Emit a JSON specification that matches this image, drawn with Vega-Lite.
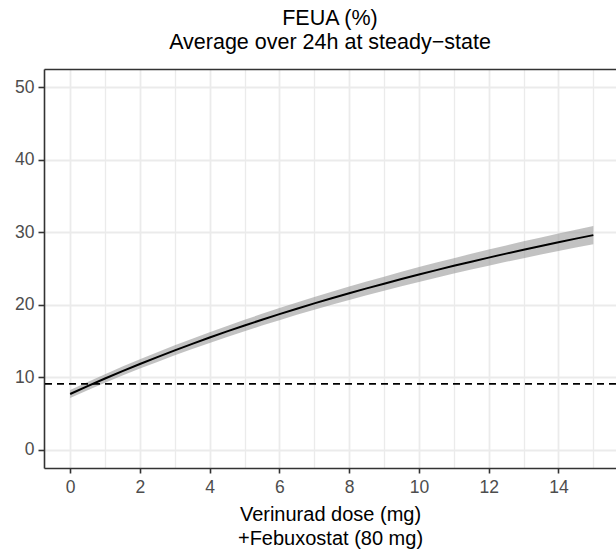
{
  "$schema": "https://vega.github.io/schema/vega-lite/v6.json",
  "autosize": {"type": "none"},
  "padding": {"left": 44, "top": 69, "right": 0, "bottom": 90},
  "width": 572,
  "height": 399,
  "background": "white",
  "config": {
    "view": {"stroke": null},
    "font": "Liberation Sans",
    "axis": {
      "gridColor": "#EBEBEB",
      "domainColor": "#333333",
      "domainWidth": 1.6,
      "tickColor": "#333333",
      "tickWidth": 1.6,
      "labelColor": "#4D4D4D",
      "labelFont": "Liberation Sans",
      "titleFont": "Liberation Sans",
      "titleFontWeight": "normal",
      "titleColor": "#000000"
    }
  },
  "title": {
    "text": ["FEUA (%)", "Average over 24h at steady−state"],
    "fontSize": 21.5,
    "fontWeight": "normal",
    "font": "Liberation Sans",
    "color": "#000000",
    "lineHeight": 24,
    "anchor": "middle",
    "frame": "group",
    "offset": 16
  },
  "data": {
    "values": [
      {"dose": 0, "feua": 7.70, "lo": 7.15, "hi": 8.25},
      {"dose": 0.5, "feua": 8.79, "lo": 8.22, "hi": 9.36},
      {"dose": 1, "feua": 9.84, "lo": 9.24, "hi": 10.44},
      {"dose": 1.5, "feua": 10.86, "lo": 10.24, "hi": 11.48},
      {"dose": 2, "feua": 11.84, "lo": 11.20, "hi": 12.48},
      {"dose": 2.5, "feua": 12.79, "lo": 12.12, "hi": 13.46},
      {"dose": 3, "feua": 13.72, "lo": 13.03, "hi": 14.41},
      {"dose": 3.5, "feua": 14.61, "lo": 13.90, "hi": 15.32},
      {"dose": 4, "feua": 15.48, "lo": 14.74, "hi": 16.22},
      {"dose": 4.5, "feua": 16.33, "lo": 15.57, "hi": 17.09},
      {"dose": 5, "feua": 17.14, "lo": 16.36, "hi": 17.92},
      {"dose": 5.5, "feua": 17.94, "lo": 17.13, "hi": 18.75},
      {"dose": 6, "feua": 18.71, "lo": 17.88, "hi": 19.54},
      {"dose": 6.5, "feua": 19.46, "lo": 18.61, "hi": 20.31},
      {"dose": 7, "feua": 20.19, "lo": 19.31, "hi": 21.07},
      {"dose": 7.5, "feua": 20.90, "lo": 20.00, "hi": 21.80},
      {"dose": 8, "feua": 21.59, "lo": 20.67, "hi": 22.51},
      {"dose": 8.5, "feua": 22.26, "lo": 21.31, "hi": 23.21},
      {"dose": 9, "feua": 22.91, "lo": 21.94, "hi": 23.88},
      {"dose": 9.5, "feua": 23.55, "lo": 22.56, "hi": 24.54},
      {"dose": 10, "feua": 24.17, "lo": 23.15, "hi": 25.19},
      {"dose": 10.5, "feua": 24.78, "lo": 23.74, "hi": 25.82},
      {"dose": 11, "feua": 25.37, "lo": 24.31, "hi": 26.43},
      {"dose": 11.5, "feua": 25.94, "lo": 24.85, "hi": 27.03},
      {"dose": 12, "feua": 26.50, "lo": 25.39, "hi": 27.61},
      {"dose": 12.5, "feua": 27.05, "lo": 25.92, "hi": 28.18},
      {"dose": 13, "feua": 27.59, "lo": 26.43, "hi": 28.75},
      {"dose": 13.5, "feua": 28.11, "lo": 26.93, "hi": 29.29},
      {"dose": 14, "feua": 28.62, "lo": 27.42, "hi": 29.82},
      {"dose": 14.5, "feua": 29.12, "lo": 27.89, "hi": 30.35},
      {"dose": 15, "feua": 29.60, "lo": 28.35, "hi": 30.85}
    ]
  },
  "layer": [
    {
      "mark": {"type": "area", "color": "#999999", "opacity": 0.6},
      "encoding": {
        "x": {
          "field": "dose", "type": "quantitative",
          "scale": {"domain": [-0.75, 15.65], "nice": false, "zero": false},
          "axis": {
            "orient": "bottom",
            "values": [0,1,2,3,4,5,6,7,8,9,10,11,12,13,14,15],
            "labelExpr": "datum.value % 2 == 0 ? datum.label : ''",
            "labelFontSize": 17.5,
            "labelPadding": 5,
            "tickSize": 5,
            "tickOpacity": {"condition": {"test": "datum.value % 2 != 0", "value": 0}, "value": 1},
            "gridWidth": {"condition": {"test": "datum.value % 2 != 0", "value": 1.3}, "value": 1.8},
            "title": ["Verinurad dose (mg)", "+Febuxostat (80 mg)"],
            "titleFontSize": 20,
            "titleLineHeight": 24,
            "titlePadding": 9
          }
        },
        "y": {
          "field": "lo", "type": "quantitative",
          "scale": {"domain": [-2.5, 52.5], "nice": false, "zero": false},
          "axis": {
            "values": [0,5,10,15,20,25,30,35,40,45,50],
            "labelExpr": "datum.value % 10 == 0 ? datum.label : ''",
            "labelFontSize": 17.5,
            "labelPadding": 4,
            "tickSize": 6,
            "tickOpacity": {"condition": {"test": "datum.value % 10 != 0", "value": 0}, "value": 1},
            "gridWidth": {"condition": {"test": "datum.value % 10 != 0", "value": 1.3}, "value": 1.8},
            "title": null
          }
        },
        "y2": {"field": "hi"}
      }
    },
    {
      "mark": {"type": "line", "color": "#000000", "strokeWidth": 2},
      "encoding": {
        "x": {
          "field": "dose", "type": "quantitative",
          "axis": {"orient": "top", "labels": false, "ticks": false, "grid": false, "title": null, "domain": true}
        },
        "y": {"field": "feua", "type": "quantitative"}
      }
    },
    {
      "data": {"values": [{"ref": 9.1}]},
      "mark": {"type": "rule", "color": "#000000", "strokeWidth": 1.6, "strokeDash": [7, 5]},
      "encoding": {
        "y": {"field": "ref", "type": "quantitative"}
      }
    }
  ],
  "resolve": {"axis": {"x": "independent"}}
}
